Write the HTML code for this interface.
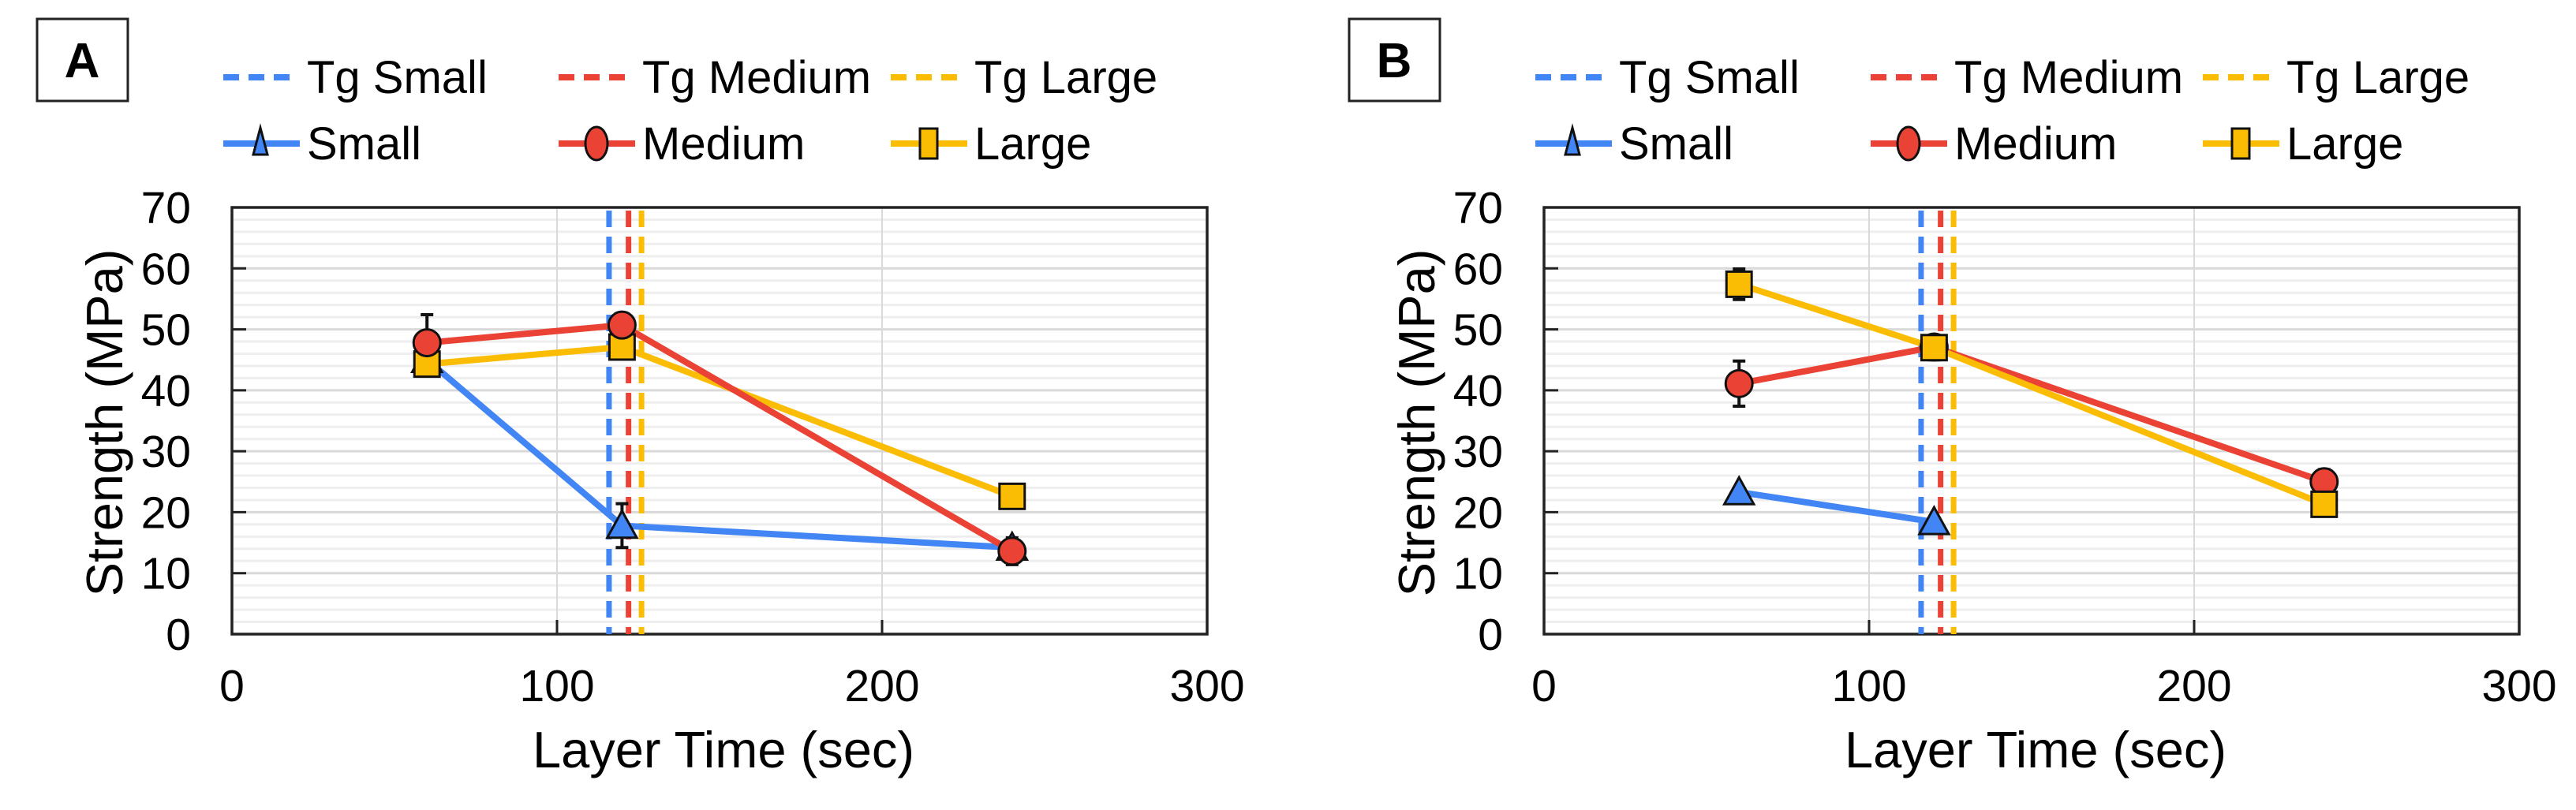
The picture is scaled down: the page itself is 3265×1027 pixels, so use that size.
<!DOCTYPE html>
<html><head><meta charset="utf-8">
<style>
html,body{margin:0;padding:0;background:#fff;}
svg{display:block;font-family:"Liberation Sans",Arial,sans-serif;}
</style></head>
<body>
<svg id="fig" width="3265" height="1027" viewBox="0 0 3265 1027" xmlns="http://www.w3.org/2000/svg"></svg>
<script>
const xCats = [60, 120, 240];
const xTicks = [0, 100, 200, 300];
const yTicks = [0, 10, 20, 30, 40, 50, 60, 70];
const tgValues = [116, 122, 126];
// Panel A
const aSmall = [45, 17.8, 14.2];
const aSmallErr = [0, 3.6, 0];
const aMedium = [47.8, 50.7, 13.6];
const aMediumErr = [4.6, 0, 2.2];
const aLarge = [44.3, 47.1, 22.6];
const aLargeErr = [0, 0, 0];
// Panel B
const bSmall = [23.3, 18.4, null];
const bSmallErr = [0, 0, 0];
const bMedium = [41.1, 47.1, 25.0];
const bMediumErr = [3.7, 1.5, 2.0];
const bLarge = [57.4, 47.0, 21.3];
const bLargeErr = [2.5, 2.0, 0];

const NS = "http://www.w3.org/2000/svg";
const svg = document.getElementById('fig');
const BLUE = "#4285f4", RED = "#ea4335", YEL = "#fbbc04";
function mk(tag, attrs, parent, text){
  const e = document.createElementNS(NS, tag);
  for (const k in attrs) e.setAttribute(k, attrs[k]);
  if (text !== undefined) e.textContent = text;
  (parent || svg).appendChild(e);
  return e;
}
function marker(g, type, cx, cy, color, s){
  let m;
  if (type === 'tri') {
    m = mk('polygon', {points: `${cx},${cy-s*0.55} ${cx-s*0.55},${cy+s*0.45} ${cx+s*0.55},${cy+s*0.45}`, fill: color, stroke: '#111', 'stroke-width': 3}, g);
  } else if (type === 'circ') {
    m = mk('ellipse', {cx: cx, cy: cy, rx: s*0.5, ry: s*0.5, fill: color, stroke: '#111', 'stroke-width': 3}, g);
  } else {
    m = mk('rect', {x: cx-s*0.47, y: cy-s*0.47, width: s*0.94, height: s*0.94, fill: color, stroke: '#111', 'stroke-width': 3}, g);
  }
  return m;
}

function panel(off, letter, series){
  const x0 = 294 + off, x1 = 1530 + off, yb = 804, yt = 263;
  const X = v => x0 + (v - 0) / 300 * (x1 - x0);
  const Y = v => yb - v / 70 * (yb - yt);
  const g = mk('g', {});
  
  

  const lb = mk('rect', {x: 47+off, y: 24, width: 115, height: 104, fill: '#fff', stroke: '#222', 'stroke-width': 3}, g);
  
  
  const lt = mk('text', {x: 104+off, y: 98, 'font-size': 62, 'font-weight': 'bold', 'text-anchor': 'middle', fill: '#000'}, g, letter);
  
  

  const lg = mk('g', {}, g);
  
  
  const legCols = [283, 708, 1129];
  const tgNames = ['Tg Small', 'Tg Medium', 'Tg Large'];
  const sNames = ['Small', 'Medium', 'Large'];
  const cols = [BLUE, RED, YEL];
  const types = ['tri', 'circ', 'sq'];
  for (let i = 0; i < 3; i++) {
    const lx = legCols[i] + off;
    const e1 = mk('g', {}, lg);
    
    
    mk('line', {x1: lx, y1: 98, x2: lx+95, y2: 98, stroke: cols[i], 'stroke-width': 8, 'stroke-dasharray': '20 12'}, e1);
    mk('text', {x: lx+106, y: 118, 'font-size': 58, fill: '#000'}, e1, tgNames[i]);
    const e2 = mk('g', {}, lg);
    
    
    mk('line', {x1: lx, y1: 182, x2: lx+97, y2: 182, stroke: cols[i], 'stroke-width': 8}, e2);
    if (types[i] === 'tri') mk('polygon', {points: `${lx+47},${162} ${lx+38},${196} ${lx+56},${196}`, fill: cols[i], stroke: '#111', 'stroke-width': 3}, e2);
    else if (types[i] === 'circ') mk('ellipse', {cx: lx+48, cy: 182, rx: 14, ry: 21, fill: cols[i], stroke: '#111', 'stroke-width': 3}, e2);
    else mk('rect', {x: lx+37, y: 163, width: 22, height: 38, fill: cols[i], stroke: '#111', 'stroke-width': 3}, e2);
    mk('text', {x: lx+106, y: 202, 'font-size': 58, fill: '#000'}, e2, sNames[i]);
  }

  const pa = mk('rect', {x: x0, y: yt, width: x1-x0, height: yb-yt, fill: '#fff'}, g);
  
  
  const grid = mk('g', {}, g);
  
  
  for (let v = 2; v < 70; v += 2) {
    if (v % 10 === 0) continue;
    mk('line', {x1: x0, y1: Y(v), x2: x1, y2: Y(v), stroke: '#eeeeee', 'stroke-width': 3}, grid);
  }
  yTicks.forEach(v => { if (v > 0 && v < 70) mk('line', {x1: x0, y1: Y(v), x2: x1, y2: Y(v), stroke: '#d9d9d9', 'stroke-width': 3}, grid); });
  xTicks.forEach(v => { if (v > 0 && v < 300) mk('line', {x1: X(v), y1: yt, x2: X(v), y2: yb, stroke: '#d9d9d9', 'stroke-width': 2}, grid); });

  const fr = mk('rect', {x: x0, y: yt, width: x1-x0, height: yb-yt, fill: 'none', stroke: '#222', 'stroke-width': 3.5}, g);
  
  

  const ya = mk('g', {}, g);
  
  
  yTicks.forEach(v => {
    if (v > 0 && v < 70) mk('line', {x1: x0, y1: Y(v), x2: x0+18, y2: Y(v), stroke: '#222', 'stroke-width': 3}, ya);
    const t = mk('text', {x: x0-52, y: Y(v)+20, 'font-size': 57, 'text-anchor': 'end', fill: '#000'}, ya, String(v));
    
    
  });
  const xa = mk('g', {}, g);
  
  
  xTicks.forEach(v => {
    if (v > 0 && v < 300) mk('line', {x1: X(v), y1: yb, x2: X(v), y2: yb-18, stroke: '#222', 'stroke-width': 3}, xa);
    const t = mk('text', {x: X(v), y: 889, 'font-size': 57, 'text-anchor': 'middle', fill: '#000'}, xa, String(v));
    
    
  });
  const xt = mk('text', {x: (x0+x1)/2+5, y: 973, 'font-size': 65, 'text-anchor': 'middle', fill: '#000'}, g, 'Layer Time (sec)');
  
  
  const ytt = mk('text', {x: 0, y: 0, 'font-size': 65, 'text-anchor': 'middle', fill: '#000', transform: `translate(${155+off},536) rotate(-90)`}, g, 'Strength (MPa)');
  
  

  tgValues.forEach((v, i) => {
    const l = mk('line', {x1: X(v), y1: yt+4, x2: X(v), y2: yb, stroke: cols[i], 'stroke-width': 7, 'stroke-dasharray': '21 12'}, g);
    
    
  });

  // error bars first (behind lines & markers)
  series.forEach(s => {
    const eg = mk('g', {}, g);
    
    
    s.vals.forEach((v, i) => {
      if (v === null || !(s.err[i] > 0)) return;
      const cx = X(xCats[i]), e = s.err[i];
      mk('line', {x1: cx, y1: Y(v+e), x2: cx, y2: Y(v-e), stroke: '#111', 'stroke-width': 4}, eg);
      mk('line', {x1: cx-8, y1: Y(v+e), x2: cx+8, y2: Y(v+e), stroke: '#111', 'stroke-width': 4}, eg);
      mk('line', {x1: cx-8, y1: Y(v-e), x2: cx+8, y2: Y(v-e), stroke: '#111', 'stroke-width': 4}, eg);
    });
  });
  series.forEach(s => {
    const sg = mk('g', {}, g);
    
    
    const pts = [];
    s.vals.forEach((v, i) => { if (v !== null) pts.push([X(xCats[i]), Y(v)]); });
    mk('polyline', {points: pts.map(p => p.join(',')).join(' '), fill: 'none', stroke: s.color, 'stroke-width': 8, 'stroke-linejoin': 'round'}, sg);
  });
  series.forEach(s => {
    const sg = mk('g', {}, g);
    
    
    s.vals.forEach((v, i) => {
      if (v === null) return;
      const m = marker(sg, s.type, X(xCats[i]), Y(v), s.color, 34);
      
      
    });
  });
}

panel(0, 'A', [
  {name: 'small', vals: aSmall, err: aSmallErr, color: BLUE, type: 'tri'},
  {name: 'large', vals: aLarge, err: aLargeErr, color: YEL, type: 'sq'},
  {name: 'medium', vals: aMedium, err: aMediumErr, color: RED, type: 'circ'}
]);
panel(1663, 'B', [
  {name: 'small', vals: bSmall, err: bSmallErr, color: BLUE, type: 'tri'},
  {name: 'medium', vals: bMedium, err: bMediumErr, color: RED, type: 'circ'},
  {name: 'large', vals: bLarge, err: bLargeErr, color: YEL, type: 'sq'}
]);
</script>
</body></html>
